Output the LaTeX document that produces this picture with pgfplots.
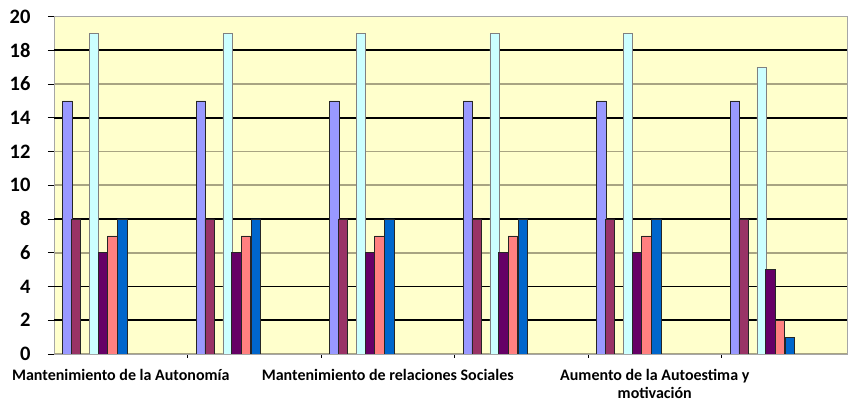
\documentclass[border=0pt]{standalone}
\usepackage{pgfplots}
\pgfplotsset{compat=1.18}
\usepackage{fontspec}
\setmainfont{Carlito}[BoldFont={Carlito Bold}]
\definecolor{bg}{HTML}{FFFFCC}
\definecolor{sA}{HTML}{9999FF}
\definecolor{sB}{HTML}{993366}
\definecolor{sC}{HTML}{CCFFFF}
\definecolor{sD}{HTML}{660066}
\definecolor{sE}{HTML}{FF8080}
\definecolor{sF}{HTML}{0066CC}
\definecolor{gridol}{HTML}{A8A482}
\begin{document}
\begin{tikzpicture}
\useasboundingbox (-54pt,-49pt) rectangle (795pt,354pt);
\begin{axis}[
  at={(0pt,0pt)}, anchor=south west,
  scale only axis, width=793pt, height=337.5pt,
  xmin=0, xmax=5.94, ymin=0, ymax=20,
  ybar, bar shift=0pt, bar width=0.07,
  axis background/.style={fill=bg},
  axis line style={draw=gray!70, line width=0.8pt},
  tick pos=left, tick align=outside,
  ytick={0,2,...,20},
  major tick length=6pt,
  ytick style={draw=black, line width=0.8pt},
  ymajorgrids, grid style={draw=gridol, line width=1.6pt},
  extra y ticks={2,4,8,14,18}, extra y tick labels={},
  extra y tick style={grid style={draw=black, line width=1.6pt}, ytick style={draw=black}},
  /pgf/number format/assume math mode=true,
  yticklabel style={font=\fontsize{20.5}{21}\selectfont\bfseries, anchor=east, xshift=-14pt},
  xtick={0.5,2.5,4.5},
  xticklabels={Mantenimiento de la Autonomía, Mantenimiento de relaciones Sociales, {Aumento de la Autoestima y\\motivación}},
  xticklabel style={font=\fontsize{16}{18}\selectfont\bfseries, align=center, yshift=-6pt},
  xtick style={draw=none},
  minor xtick={1,2,3,4,5},
  minor tick length=4pt,
  minor x tick style={draw=black, line width=0.8pt},
]
\addplot[fill=sA, draw=black!85, line width=0.7pt] coordinates {(0.10,15) (1.10,15) (2.10,15) (3.10,15) (4.10,15) (5.10,15)};
\addplot[fill=sB, draw=black!85, line width=0.7pt] coordinates {(0.165,8) (1.165,8) (2.165,8) (3.165,8) (4.165,8) (5.165,8)};
\addplot[fill=sC, draw=black!50, line width=0.7pt] coordinates {(0.30,19) (1.30,19) (2.30,19) (3.30,19) (4.30,19) (5.30,17)};
\addplot[fill=sD, draw=black!85, line width=0.7pt] coordinates {(0.365,6) (1.365,6) (2.365,6) (3.365,6) (4.365,6) (5.365,5)};
\addplot[fill=sE, draw=black!85, line width=0.7pt] coordinates {(0.437,7) (1.437,7) (2.437,7) (3.437,7) (4.437,7) (5.437,2)};
\addplot[fill=sF, draw=black!85, line width=0.7pt] coordinates {(0.512,8) (1.512,8) (2.512,8) (3.512,8) (4.512,8) (5.512,1)};
\end{axis}
\end{tikzpicture}
\end{document}
